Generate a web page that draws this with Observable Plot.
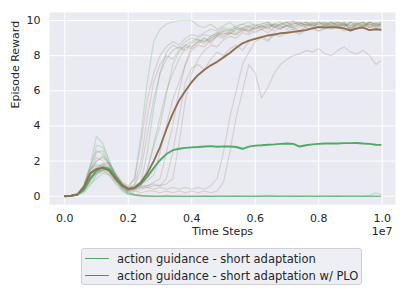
<!DOCTYPE html>
<html>
<head>
<meta charset="utf-8">
<script src="https://cdn.jsdelivr.net/npm/d3@7"></script>
<script src="https://cdn.jsdelivr.net/npm/@observablehq/plot@0.6"></script>
<style>
  html, body { margin: 0; padding: 0; background: #fff; }
  #wrap { position: relative; width: 407px; height: 305px; font-family: "DejaVu Sans", sans-serif; color: #262626; }
  #legend { position: absolute; left: 81px; top: 248px; width: 281px; height: 37px; box-sizing: border-box;
    border: 1px solid #d0d0d6; border-radius: 3px; background: rgba(234,234,242,0.8); font-size: 11.5px; }
  .item { position: absolute; left: 0; height: 14px; line-height: 14px; white-space: nowrap; }
  .sw { position: absolute; left: 3px; top: 6px; width: 24px; height: 0; border-top: 1.6px solid; }
  .lb { position: absolute; left: 35px; top: 0; }
</style>
</head>
<body>
<div id="wrap"></div>
<script>
// time steps (x 1e7)
const steps = [0,0.02,0.04,0.06,0.08,0.10,0.12,0.14,0.16,0.18,0.20,0.22,0.24,0.26,0.28,0.30,0.32,0.34,0.36,0.38,0.40,
  0.42,0.44,0.46,0.48,0.50,0.52,0.54,0.56,0.58,0.60,0.62,0.64,0.66,0.68,0.70,0.72,0.74,0.76,0.78,0.80,
  0.82,0.84,0.86,0.88,0.90,0.92,0.94,0.96,0.98,0.995];

const seriesNames = ["action guidance - short adaptation", "action guidance - short adaptation w/ PLO"];
const seriesColors = ["#52A864", "#8F7055"];
const xTicks = [0, 0.2, 0.4, 0.6, 0.8, 1.0];
const yTicks = [0, 2, 4, 6, 8, 10];

// mean curves
const meanGreen = [0,0.03,0.1,0.4,1.0,1.45,1.65,1.55,1.1,0.65,0.4,0.45,0.7,1.1,1.6,2.05,2.4,2.62,2.7,2.75,2.78,
  2.8,2.83,2.85,2.82,2.84,2.83,2.8,2.7,2.82,2.88,2.9,2.93,2.95,2.98,3.0,2.98,2.83,2.9,2.95,2.98,
  3.0,3.0,3.0,3.02,3.02,3.03,3.0,2.98,2.93,2.92];
const meanBrown = [0,0.03,0.1,0.5,1.3,1.55,1.62,1.45,1.0,0.62,0.42,0.48,0.8,1.3,2.0,2.8,3.8,4.7,5.45,6.0,6.5,
  6.9,7.2,7.45,7.65,7.9,8.15,8.45,8.7,8.85,8.95,9.05,9.15,9.2,9.28,9.3,9.35,9.4,9.45,9.55,9.62,
  9.6,9.62,9.6,9.55,9.43,9.55,9.6,9.45,9.5,9.47];

// individual runs, action guidance - short adaptation
const g1 = [0,0.02,0.1,0.4,1.2,2.0,2.2,1.8,1.2,0.8,0.5, 1.0,3.5,6.5,8.8,9.5,9.8,9.9,10,10,10,
  9.7,9.6,9.8,9.5,9.7,9.9,9.6,9.8,9.9,9.7, 9.8,9.9,9.6,9.8,9.9,9.7,9.8,9.9,9.7,9.8, 9.9,9.8,9.9,9.7,9.9,9.8,9.6,9.9,9.8,9.9];
const g2 = [0,0.03,0.15,0.6,1.8,3.4,3.0,2.0,1.2,0.7,0.5, 0.6,0.8,2.5,5.0,7.0,8.2,8.6,8.4,8.8,9.0,
  8.9,8.8,9.0,9.2,9.4,9.5,9.3,9.6,9.7,9.5, 9.7,9.8,9.6,9.7,9.9,9.6,9.7,9.8,9.9,9.7, 9.8,9.9,9.7,9.8,9.9,9.6,9.8,9.9,9.7,9.8];
const g3 = [0,0.02,0.1,0.3,0.8,1.3,1.6,1.5,1.0,0.6,0.4, 0.4,0.6,1.5,2.8,4.0,5.8,7.5,8.2,8.6,8.8,
  9.0,9.2,9.1,9.3,9.5,9.4,9.6,9.5,9.7,9.8, 9.6,9.7,9.8,9.9,9.7,9.8,9.9,9.7,9.9,9.8, 9.7,9.9,9.8,9.9,9.7,9.8,9.9,9.8,9.7,9.8];
const z1 = [0,0.02,0.1,0.5,1.4,2.5,2.6,1.8,1.0,0.5,0.2, 0.1,0.05,0.02,0,0,0.03,0,0,0,0,
  0,0.02,0,0,0,0,0.03,0,0,0, 0,0,0,0,0,0.02,0,0,0,0, 0,0,0.03,0,0,0,0,0.05,0.2,0.1];
const z2 = [0,0.03,0.1,0.3,0.7,1.0,1.3,1.2,0.8,0.4,0.15, 0.08,0.03,0,0,0,0,0,0,0,0,
  0,0,0,0,0,0,0,0,0,0, 0,0,0,0,0,0,0,0,0,0, 0,0,0,0,0,0,0,0,0,0];
const z3 = [0,0.02,0.12,0.5,1.2,1.6,1.9,1.5,0.9,0.4,0.1, 0.05,0.02,0,0,0,0,0,0,0,0,
  0,0,0,0,0,0,0,0,0,0, 0.04,0.05,0.03,0,0,0,0,0,0,0, 0,0,0,0,0,0,0,0,0,0];
const z4 = [0,0.02,0.08,0.2,0.6,1.2,1.5,1.7,1.2,0.6,0.2, 0.1,0.04,0.02,0,0,0,0,0,0,0,
  0,0,0,0,0,0,0,0,0,0, 0,0,0,0,0,0,0,0,0,0, 0,0,0,0,0,0,0,0,0,0];
const z5 = [0,0.02,0.1,0.4,1.0,1.4,1.5,1.2,0.7,0.3,0.1, 0.04,0.02,0,0,0,0,0,0,0,0,
  0,0,0,0,0,0,0,0,0,0, 0,0,0,0,0,0,0,0,0,0, 0,0,0,0,0,0,0,0,0,0];
const z6 = [0,0.04,0.15,0.6,1.6,2.9,2.8,2.0,1.1,0.5,0.2, 0.08,0.03,0,0,0,0,0,0,0,0,
  0,0,0,0,0,0,0,0,0,0, 0,0,0,0,0,0,0,0,0,0, 0,0,0,0,0,0,0,0,0,0];
const z7 = [0,0.02,0.1,0.3,0.9,1.5,1.8,1.9,1.3,0.7,0.3, 0.1,0.05,0.02,0,0,0,0,0,0,0,
  0,0,0,0,0,0,0,0,0,0, 0,0,0,0,0,0,0,0,0,0, 0,0,0,0,0,0,0,0,0,0];

// individual runs, action guidance - short adaptation w/ PLO
const b1 = [0,0.02,0.1,0.5,1.5,2.0,2.3,1.9,1.3,0.8,0.6, 1.0,3.0,5.5,7.0,8.0,8.5,8.8,8.6,9.0,9.2,
  9.1,9.3,9.5,9.4,9.6,9.5,9.7,9.8,9.6,9.7, 9.8,9.9,9.7,9.8,9.9,10,9.8,9.9,9.8,9.9, 9.7,9.8,9.9,9.8,9.7,9.9,9.8,9.7,9.9,9.8];
const b2 = [0,0.03,0.12,0.6,1.6,1.8,1.7,1.4,0.9,0.6,0.4, 0.6,1.5,3.5,5.5,7.0,7.8,8.3,8.5,8.3,8.7,
  8.9,8.8,9.1,9.3,9.2,9.4,9.6,9.5,9.3,9.6, 9.7,9.5,9.8,9.6,9.7,9.9,9.8,9.6,9.8,9.9, 9.8,9.6,9.7,9.9,9.5,9.8,9.9,9.6,9.8,9.7];
const b3 = [0,0.02,0.08,0.4,1.2,1.5,1.6,1.5,1.0,0.6,0.4, 0.5,0.8,1.5,3.0,4.5,6.0,7.0,7.8,8.5,8.4,
  8.7,9.0,8.8,9.1,9.3,9.2,9.5,9.4,9.6,9.5, 9.7,9.6,9.8,9.7,9.5,9.8,9.9,9.7,9.8,9.6, 9.8,9.9,9.7,9.8,9.6,9.8,9.9,9.7,9.6,9.8];
const b4 = [0,0.02,0.1,0.5,1.3,1.7,1.8,1.6,1.1,0.7,0.5, 0.5,0.7,0.9,1.2,2.5,4.0,5.5,6.5,7.5,8.3,
  8.6,8.5,8.9,9.1,9.0,9.3,9.2,9.5,9.4,9.6, 9.5,9.7,9.6,9.8,9.7,9.6,9.8,9.9,9.7,9.8, 9.9,9.7,9.8,9.6,9.9,9.8,9.7,9.9,9.8,9.7];
const b5 = [0,0.03,0.1,0.4,1.1,1.4,1.5,1.4,0.9,0.5,0.3, 0.4,0.5,0.6,0.8,1.0,2.5,4.0,6.0,7.5,8.5,
  8.8,9.0,8.7,9.2,9.4,9.3,9.5,9.6,9.4,9.7, 9.6,9.8,9.7,9.5,9.8,9.9,9.7,9.8,9.6,9.9, 9.8,9.7,9.9,9.8,9.6,9.8,9.7,9.9,9.8,9.9];
const b6 = [0,0.02,0.1,0.6,1.7,2.6,2.4,1.8,1.2,0.7,0.4, 0.5,0.6,0.6,0.7,0.6,1.0,2.5,4.5,6.5,7.3,
  7.5,7.2,7.8,8.2,8.0,8.4,8.6,8.3,8.8,9.0, 9.1,8.9,9.3,9.2,9.4,9.5,9.3,9.6,9.5,9.4, 9.6,9.5,9.7,9.4,9.6,9.5,9.7,9.6,9.5,9.6];
const b7 = [0,0.02,0.08,0.3,0.9,1.3,1.5,1.6,1.2,0.7,0.4, 0.4,0.5,0.5,0.6,0.6,0.7,1.0,3.0,5.5,7.0,
  7.8,8.3,8.6,8.5,8.9,9.1,9.0,9.3,9.2,9.4, 9.5,9.3,9.6,9.5,9.7,9.6,9.4,9.7,9.8,9.6, 9.7,9.8,9.6,9.7,9.8,9.5,9.7,9.8,9.6,9.7];
const b8 = [0,0.02,0.1,0.4,1.0,1.3,1.4,1.3,0.9,0.5,0.3, 0.3,0.4,0.5,0.4,0.5,0.4,0.5,0.4,0.5,0.4,
  0.5,0.4,0.6,1.0,2.5,4.5,6.0,7.5,8.2,8.8, 9.0,8.8,9.2,9.1,9.3,9.4,9.2,9.5,9.6,9.4, 9.5,9.7,9.6,9.8,9.5,9.7,9.6,9.8,9.7,9.6];
const b9 = [0,0.02,0.1,0.5,1.3,1.6,1.7,1.5,1.0,0.6,0.3, 0.3,0.2,0.3,0.3,0.2,0.3,0.2,0.3,0.2,0.3,
  0.2,0.3,0.2,0.3,0.8,2.5,4.5,6.0,7.5,7.0, 5.6,6.2,7.0,7.5,7.8,8.0,8.1,8.3,8.2,8.4, 8.1,8.0,8.3,8.5,8.2,8.1,8.3,8.0,7.5,7.7];
const b10 = [0,0.02,0.12,0.5,1.4,2.2,2.0,1.7,1.1,0.7,0.4, 0.7,2.0,4.5,6.5,7.5,8.0,7.8,8.3,8.6,8.5,
  8.8,8.7,9.0,9.2,9.1,9.3,9.2,9.4,9.5,9.3, 9.5,9.6,9.4,9.6,9.7,9.5,9.6,9.8,9.7,9.6, 9.7,9.6,9.8,9.7,9.5,9.7,9.8,9.6,9.7,9.8];

const greenRuns = [g1, g2, g3, z1, z2, z3, z4, z5, z6, z7];
const brownRuns = [b1, b2, b3, b4, b5, b6, b7, b8, b9, b10];

function toRows(runs, group) {
  const rows = [];
  runs.forEach((r, k) => r.forEach((v, i) => rows.push({step: steps[i], value: v, run: group * 100 + k, group})));
  return rows;
}
const faintGreen = toRows(greenRuns, 0);
const faintBrown = toRows(brownRuns, 1);
const meanG = meanGreen.map((v, i) => ({step: steps[i], value: v}));
const meanB = meanBrown.map((v, i) => ({step: steps[i], value: v}));

const chart = Plot.plot({
  width: 407,
  height: 240,
  marginLeft: 49,
  marginRight: 12,
  marginTop: 12,
  marginBottom: 36,
  style: {fontFamily: "DejaVu Sans", fontSize: "11px", color: "#262626", background: "transparent"},
  x: {domain: [-0.0482, 1.0419]},
  y: {domain: [-0.47, 10.455]},
  marks: [
    Plot.frame({fill: "#EAEAF2", stroke: null}),
    Plot.gridX(xTicks, {stroke: "#fff", strokeOpacity: 1, strokeWidth: 1}),
    Plot.gridY(yTicks, {stroke: "#fff", strokeOpacity: 1, strokeWidth: 1}),
    Plot.axisX(xTicks, {tickSize: 0, tickPadding: 10, tickFormat: d => d.toFixed(1), label: null, fill: "#262626"}),
    Plot.axisY(yTicks, {tickSize: 0, tickPadding: 9, label: null, fill: "#262626"}),
    Plot.line(faintGreen, {x: "step", y: "value", z: "run", stroke: seriesColors[0], strokeOpacity: 0.25, strokeWidth: 1.2}),
    Plot.line(faintBrown, {x: "step", y: "value", z: "run", stroke: seriesColors[1], strokeOpacity: 0.22, strokeWidth: 1.2}),
    Plot.line(meanG, {x: "step", y: "value", stroke: seriesColors[0], strokeWidth: 1.9}),
    Plot.line(meanB, {x: "step", y: "value", stroke: seriesColors[1], strokeWidth: 1.9}),
    Plot.text(["Time Steps"], {frameAnchor: "bottom", dy: 30, fill: "#262626", fontSize: 11}),
    Plot.text(["1e7"], {frameAnchor: "bottom-right", textAnchor: "end", dx: -3, dy: 30, fill: "#262626", fontSize: 11}),
    Plot.text(["Episode Reward"], {frameAnchor: "left", dx: -34, rotate: -90, fill: "#262626", fontSize: 11})
  ]
});

const wrap = document.getElementById("wrap");
wrap.appendChild(chart);
const legend = document.createElement("div");
legend.id = "legend";
seriesNames.forEach((name, i) => {
  const item = document.createElement("div");
  item.className = "item";
  item.style.top = (i === 0 ? 2.5 : 19.5) + "px";
  item.style.width = "100%";
  const sw = document.createElement("div");
  sw.className = "sw";
  sw.style.borderTopColor = seriesColors[i];
  const lb = document.createElement("div");
  lb.className = "lb";
  lb.textContent = name;
  item.appendChild(sw);
  item.appendChild(lb);
  legend.appendChild(item);
});
wrap.appendChild(legend);
</script>
</body>
</html>
